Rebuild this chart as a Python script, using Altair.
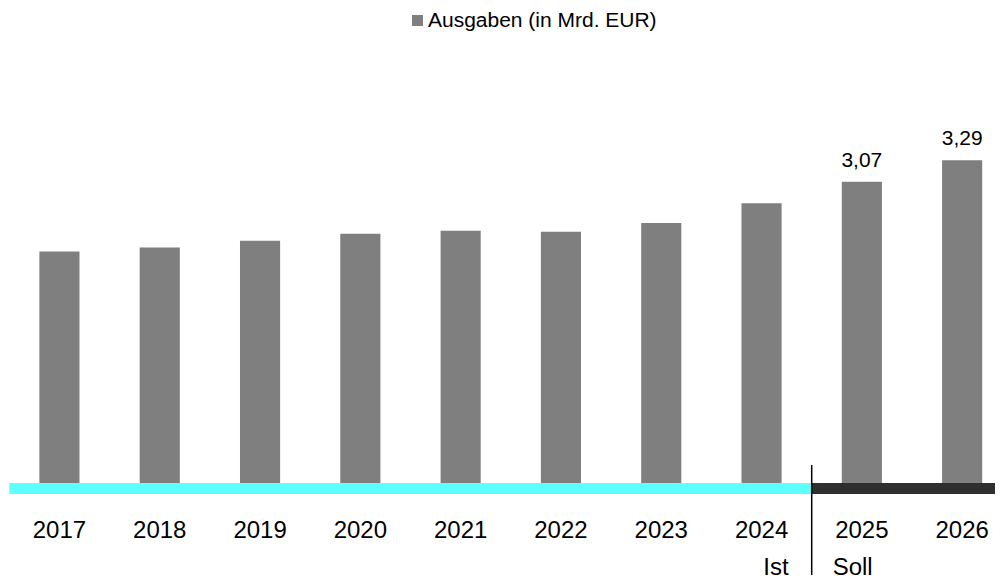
import altair as alt
import pandas as pd

# ---- data ----
years = ["2017", "2018", "2019", "2020", "2021", "2022", "2023", "2024", "2025", "2026"]
ausgaben = [2.36, 2.40, 2.47, 2.54, 2.57, 2.56, 2.65, 2.85, 3.07, 3.29]
year_phase = ["Ist"] * 8 + ["Soll"] * 2
series_name = "Ausgaben (in Mrd. EUR)"

phases = ["Ist", "Soll"]
phase_start = [0, 8]
phase_end = [8, 10]
phase_colors = ["#5EFFFF", "#2F2F2F"]

FONT = "Liberation Sans"

df = pd.DataFrame({
    "Jahr": years,
    "Wert": ausgaben,
    "Phase": year_phase,
    "Serie": series_name,
})
df["Label"] = [
    (f"{v:.2f}".replace(".", ",") if p == "Soll" else "")
    for v, p in zip(ausgaben, year_phase)
]

seg = pd.DataFrame({"Phase": phases, "start": phase_start, "end": phase_end})
split = pd.DataFrame({"pos": [phase_start[1]]})

W_RANGE = 1003
H = 475

xband = alt.Scale(domain=years, range=[0, W_RANGE], paddingInner=0.6, paddingOuter=0.3)
yscale = alt.Scale(domain=[0, 4.841], nice=False, zero=True)
xlin = alt.Scale(domain=[0, 10], range=[0, W_RANGE], nice=False, zero=False)

bars = alt.Chart(df).mark_bar(color="#7F7F7F").encode(
    x=alt.X("Jahr:N", scale=xband, sort=years,
            axis=alt.Axis(title=None, labelAngle=0, ticks=False, tickSize=0, domain=False,
                          labelFontSize=24, labelColor="#000000", labelFont=FONT,
                          labelBaseline="alphabetic", labelPadding=54.7)),
    y=alt.Y("Wert:Q", scale=yscale, axis=None),
    color=alt.Color("Serie:N",
                    scale=alt.Scale(domain=[series_name], range=["#7F7F7F"]),
                    legend=alt.Legend(title=None, orient="none", legendX=394.7, legendY=2,
                                      symbolType="square", symbolSize=121, symbolStrokeWidth=0,
                                      symbolOffset=3,
                                      labelFontSize=21, labelFont=FONT, labelColor="#000000",
                                      labelOffset=0, padding=0, labelLimit=0)),
)

labels = alt.Chart(df).mark_text(
    baseline="alphabetic", align="center", dy=-15, fontSize=21, font=FONT, color="#000000"
).encode(
    x=alt.X("Jahr:N", scale=xband, sort=years, axis=None),
    y=alt.Y("Wert:Q", scale=yscale, axis=None),
    text="Label:N",
)

band = alt.Chart(seg).mark_rect().encode(
    x=alt.X("start:Q", scale=xlin, axis=None),
    x2="end:Q",
    y=alt.value(H),
    y2=alt.value(H + 11),
    color=alt.Color("Phase:N", scale=alt.Scale(domain=phases, range=phase_colors), legend=None),
)

rule = alt.Chart(split).mark_rule(color="#000000", strokeWidth=1.5).encode(
    x=alt.X("pos:Q", scale=xlin, axis=None),
    y=alt.value(H - 18),
    y2=alt.value(H + 92),
)

ist_text = alt.Chart(seg).transform_filter(alt.datum.Phase == "Ist").mark_text(
    align="right", baseline="alphabetic", dx=-23, fontSize=24, font=FONT, color="#000000"
).encode(
    x=alt.X("end:Q", scale=xlin, axis=None),
    y=alt.value(H + 92),
    text="Phase:N",
)

soll_text = alt.Chart(seg).transform_filter(alt.datum.Phase == "Soll").mark_text(
    align="left", baseline="alphabetic", dx=21, fontSize=24, font=FONT, color="#000000"
).encode(
    x=alt.X("start:Q", scale=xlin, axis=None),
    y=alt.value(H + 92),
    text="Phase:N",
)

chart = alt.layer(bars, labels, band, rule, ist_text, soll_text).resolve_scale(
    x="independent", color="independent"
).properties(
    width=986,
    height=H,
    autosize=alt.AutoSizeParams(type="none"),
    padding={"left": 1.3, "top": 0, "right": 0, "bottom": 98},
).configure(font=FONT).configure_view(stroke=None)

chart.save("out.html", embed_options={"renderer": "svg", "actions": False})
